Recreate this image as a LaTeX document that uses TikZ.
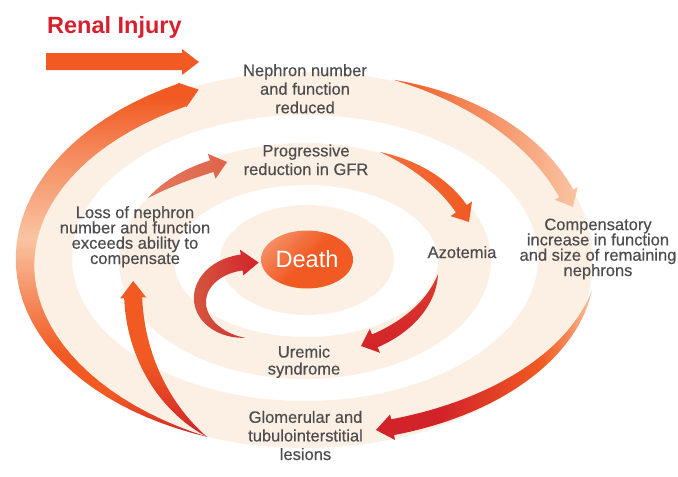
\documentclass[tikz,border=0pt]{standalone}
\usepackage{fontspec}
\setmainfont{Liberation Sans}
\newfontfamily\stagefont{Liberation Sans}[FakeBold=0.4]
\usetikzlibrary{shapes.geometric}

\definecolor{orangeM}{HTML}{F15A22}
\definecolor{redM}{HTML}{D2232A}
\definecolor{redO}{HTML}{DB3B2E}
\definecolor{redS}{HTML}{D5563F}
\definecolor{peachL}{HTML}{F9C4A2}
\definecolor{salmonM}{HTML}{DE644B}
\definecolor{salmonL}{HTML}{E4785C}
\definecolor{deathL}{HTML}{F58C62}
\definecolor{bandC}{HTML}{FCF0E4}
\definecolor{textG}{HTML}{4D4D4F}
\definecolor{titleR}{HTML}{D7202E}

\pgfdeclareverticalshading{outerflow}{100bp}{color(0bp)=(redM); color(25bp)=(redM);
  color(31bp)=(orangeM); color(37bp)=(orangeM); color(53bp)=(peachL);
  color(65bp)=(orangeM!55!peachL); color(73bp)=(orangeM); color(100bp)=(orangeM)}
\pgfdeclarehorizontalshading{sideflow}{100bp}{color(0bp)=(redM); color(25bp)=(redM);
  color(40bp)=(redM); color(52bp)=(redM!50!orangeM); color(63bp)=(orangeM);
  color(69bp)=(orangeM!60!peachL); color(75bp)=(peachL); color(100bp)=(peachL)}

% tapered arrow running along an elliptic arc
\newcommand{\archead}{13}
\newcommand{\tightlines}{\lineskiplimit=-8pt\relax}
\newcommand{\rimx}[2]{(\arcx+\arcrx*cos(#1)+(#2)*\arcry/100*cos(#1)/veclen(\arcry/100*cos(#1),\arcrx/100*sin(#1)))}
\newcommand{\rimy}[2]{(\arcy-\arcry*sin(#1)-(#2)*\arcrx/100*sin(#1)/veclen(\arcry/100*cos(#1),\arcrx/100*sin(#1)))}
\newcommand{\rimw}[1]{(\arcw/2*(((#1)-\arcfrom)/(\arcneck-\arcfrom))*(2-((#1)-\arcfrom)/(\arcneck-\arcfrom)))}
\newcommand{\bandarrow}[9]{%
  \def\arcx{#2}\def\arcy{#3}\def\arcrx{#4}\def\arcry{#5}%
  \def\arcfrom{#6}\def\arcneck{#7}\def\arcw{#9}%
  \shade[samples=40,#1] plot[domain=#6:#7] ({\rimx{\x}{\rimw{\x}}},{\rimy{\x}{\rimw{\x}}})
    -- ({\rimx{#7}{\archead}},{\rimy{#7}{\archead}})
    -- ({\rimx{#8}{0}},{\rimy{#8}{0}})
    -- ({\rimx{#7}{-\archead}},{\rimy{#7}{-\archead}})
    -- plot[domain=#7:#6] ({\rimx{\x}{-\rimw{\x}}},{\rimy{\x}{-\rimw{\x}}})
    -- cycle;}

% anchor = baseline of the last line
\tikzset{
  stage/.style={font=\stagefont\fontsize{16.5}{18.6}\selectfont, text=textG, align=center,
    inner sep=0pt, anchor=base},
  stage tight/.style={stage, font={\stagefont\fontsize{16.5}{15.3}\selectfont\tightlines}}
}

\begin{document}
\begin{tikzpicture}[x=1pt,y=-1pt]
    \useasboundingbox (0,0) rectangle (678,477);

    % rings
    \fill[bandC, even odd rule] (305,260) ellipse [x radius=288, y radius=188]
        (305,258) ellipse [x radius=233, y radius=143];
    \fill[bandC, even odd rule] (305,261) ellipse [x radius=186, y radius=118]
        (306,261) ellipse [x radius=132, y radius=76];
    \fill[bandC] (307,260) ellipse [x radius=87, y radius=55];

    % entry arrow
    \fill[orangeM] (46,53) -- (182,53) -- (182,49) -- (199,62) -- (182,75)
        -- (182,70) -- (46,70) -- cycle;

    % outer loop
    \bandarrow{shading=outerflow}{330}{262}{305}{191}{246.3}{119}{115.5}{24}
    \bandarrow{top color=orangeM, bottom color=redM, middle color=orangeM}{290}{290}{157}{173}{238}{182.6}{177}{18}
    \bandarrow{left color=orangeM, right color=peachL}{305}{260}{279}{190}{71.6}{20.5}{16.2}{16}
    \bandarrow{shading=sideflow}{305}{260}{291.3}{175.3}{-9.85}{-72.5}{-75.9}{16}

    % inner loop
    \bandarrow{left color=salmonL, right color=salmonM}{305}{260}{192.4}{107.2}{144.7}{119}{113.9}{12}
    \bandarrow{left color=orangeM!80!peachL, right color=orangeM}{305}{260}{172.9}{119.9}{64.3}{25.3}{18.5}{13}
    \bandarrow{top color=redO, bottom color=redM}{305}{260}{134.5}{94.6}{-8.5}{-58.7}{-65.4}{14}
    \bandarrow{left color=redS, right color=redM}{250}{300}{50}{38}{264}{99.6}{80}{16}

    \node[ellipse, minimum width=92, minimum height=58, inner sep=0pt,
        top color=deathL, bottom color=orangeM, middle color=orangeM, shading angle=45,
        text=white, font=\fontsize{23.6}{26}\selectfont] (death) at (307,259.5) {Death};

    \node[anchor=base west, inner sep=0pt, text=titleR,
        font=\bfseries\fontsize{23.5}{26}\selectfont] (injury) at (47,33) {Renal Injury};

    \node[stage] (nephron) at (305,113.3) {Nephron number\\and function\\reduced};
    \node[stage] (gfr) at (306,175) {Progressive\\reduction in GFR};
    \node[stage tight] (loss) at (135,264) {Loss of nephron\\number and function\\exceeds ability to\\compensate};
    \node[stage tight] (comp) at (598,276) {Compensatory\\increase in function\\and size of remaining\\nephrons};
    \node[stage] (azot) at (462,258) {Azotemia};
    \node[stage, font=\stagefont\fontsize{16.5}{17}\selectfont] (uremic) at (304,374.5) {Uremic\\syndrome};
    \node[stage] (glom) at (305.5,460) {Glomerular and\\tubulointerstitial\\lesions};
\end{tikzpicture}
\end{document}
